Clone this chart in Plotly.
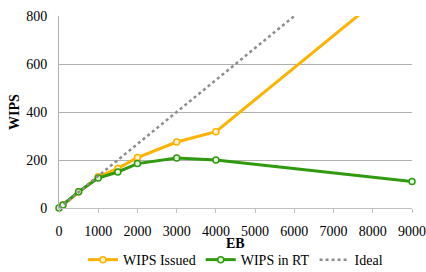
import plotly.graph_objects as go

eb = [0, 100, 500, 1000, 1500, 2000, 3000, 4000, 9000]
wips_issued = [0, 13, 68, 130, 165, 210, 275, 318, 985]
wips_rt = [0, 13, 68, 125, 150, 185, 208, 200, 110]
ideal = [0, 13.3, 66.7, 133.3, 200, 266.7, 400, 533.3, 1200]
x_ticks = [0, 1000, 2000, 3000, 4000, 5000, 6000, 7000, 8000, 9000]
y_ticks = [0, 200, 400, 600, 800]

FF = "Liberation Serif"
fnt = dict(family=FF, size=14, color="#000000")

fig = go.Figure()
fig.add_trace(go.Scatter(x=eb, y=wips_issued, name="WIPS Issued", mode="lines+markers",
                         line=dict(color="#FDB300", width=3),
                         marker=dict(size=6, color="#FFF3D0", line=dict(color="#FDB300", width=1.5))))
fig.add_trace(go.Scatter(x=eb, y=wips_rt, name="WIPS in RT", mode="lines+markers",
                         line=dict(color="#2E9A0E", width=3), cliponaxis=False,
                         marker=dict(size=6, color="#E6F5E0", line=dict(color="#2E9A0E", width=1.5))))
fig.add_trace(go.Scatter(x=eb, y=ideal, name="Ideal", mode="lines",
                         line=dict(color="#8C8C8C", width=2.5, dash="dot")))

fig.update_layout(
    template="none",
    width=426, height=272,
    margin=dict(l=59, r=14, t=16, b=64, autoexpand=False),
    paper_bgcolor="white", plot_bgcolor="white",
    font=fnt,
    showlegend=True,
    legend=dict(orientation="h", x=0.5, xanchor="center", xref="paper",
                y=-0.271, yanchor="middle", yref="paper",
                font=fnt, itemwidth=30, tracegroupgap=0),
    xaxis=dict(range=[0, 9000], tickvals=x_ticks, tickfont=fnt,
               showgrid=False, showline=True, linecolor="#BFBFBF", linewidth=1,
               ticks="outside", ticklen=4, tickcolor="#BFBFBF", ticklabelstandoff=6,
               zeroline=False, automargin=False),
    yaxis=dict(range=[0, 800], tickvals=y_ticks, tickfont=fnt,
               showgrid=True, gridcolor="#B0B0B0", gridwidth=1,
               showline=True, linecolor="#B0B0B0", linewidth=1,
               ticks="", ticklabelstandoff=8, zeroline=False, automargin=False),
    annotations=[
        dict(text="<b>EB</b>", xref="paper", yref="paper", x=0.5, y=-0.185,
             xanchor="center", yanchor="middle", showarrow=False, font=fnt),
        dict(text="<b>WIPS</b>", xref="paper", yref="paper", x=-0.1275, y=0.5, textangle=-90,
             xanchor="center", yanchor="middle", showarrow=False, font=fnt),
    ],
)
fig.write_html("out.html", config={"displayModeBar": False},
               post_script="document.body.style.margin='0';")
